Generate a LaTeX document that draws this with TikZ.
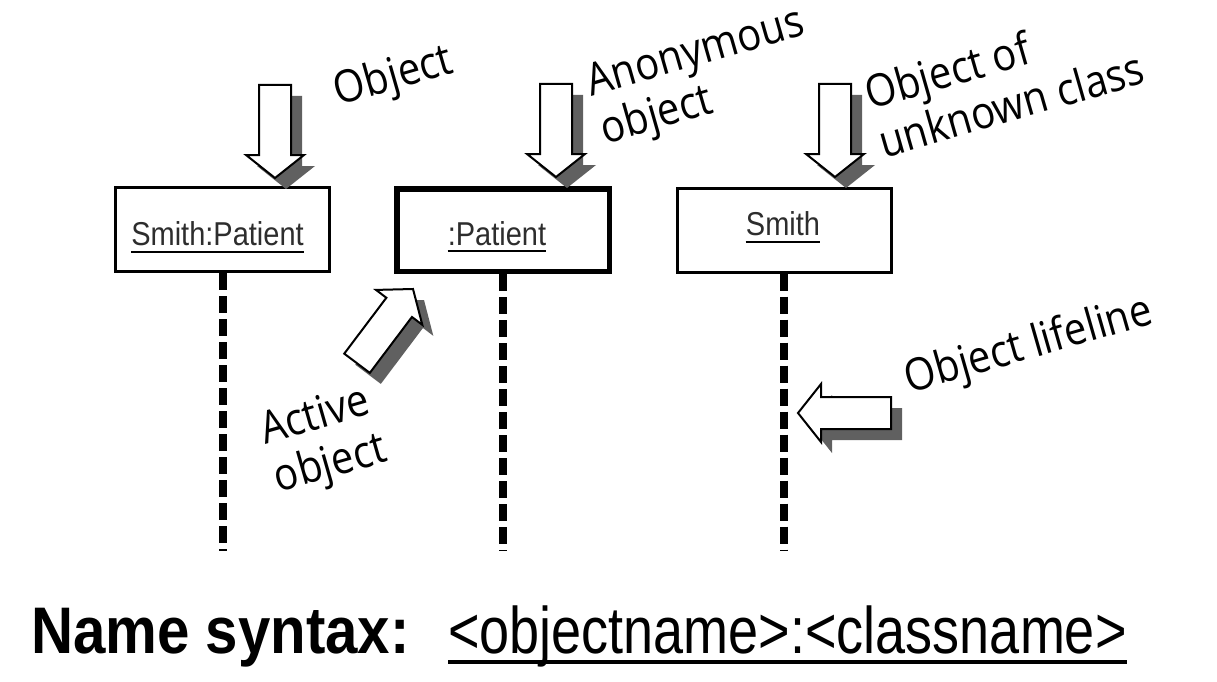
\documentclass[tikz,border=0pt]{standalone}
\usepackage{graphicx}
\usepackage{fontspec}
\setmainfont{Liberation Sans}
\newfontfamily\handfont{Open Sans}
\usepackage{tikz}
\definecolor{figline}{RGB}{0,0,0}
\definecolor{figshade}{RGB}{96,96,96}
\definecolor{figtext}{RGB}{45,45,45}
\tikzset{
  objbox/.style  ={draw=figline, line width=3pt, fill=white, minimum width=214pt, minimum height=84pt, inner sep=0pt},
  actbox/.style  ={objbox, line width=5.5pt, minimum width=212.5pt, minimum height=82.5pt},
  objname/.style ={font=\fontsize{29}{29}\selectfont, text=figtext, inner sep=0pt},
  uline/.style   ={draw=figline, line width=2.5pt},
  life/.style    ={draw=figline, line width=8pt, dash pattern=on 17pt off 6pt},
  hand/.style    ={font=\handfont\fontsize{40}{50}\selectfont, rotate=16, align=left, inner sep=0pt},
  arrowline/.style={draw=figline, line width=2pt, fill=white, line join=miter},
}
\newcommand{\arrowoutline}{(0,0) -- (-23,29) -- (-23,16) -- (-93,16) -- (-93,-16) -- (-23,-16) -- (-23,-29) -- cycle}
\newcommand{\blockarrow}[3]{%
  \fill[figshade,shift={(#1+11,#2+11)},rotate=#3] \arrowoutline;
  \draw[arrowline,shift={(#1,#2)},rotate=#3] \arrowoutline;
}
\newcommand{\tall}[1]{\scalebox{1}[1.12]{#1}}

\begin{document}
\begin{tikzpicture}[x=1pt,y=-1pt]
  \fill[white] (0,0) rectangle (1217,682);
  \useasboundingbox (0,0) rectangle (1217,682);

  \node[objbox] (smith) at (222.5,229.5) {};
  \node[actbox] (anon) at (503,230) {};
  \node[objbox] (unknown) at (784,230) {};

  \node[objname,anchor=base] (smithname) at (217.5,245) {\scalebox{1}[1.14]{Smith:Patient}};
  \node[objname,anchor=base] (anonname) at (497,245) {\scalebox{1}[1.14]{:Patient}};
  \node[objname,anchor=base] (unknownname) at (783,235) {\scalebox{1}[1.14]{Smith}};
  \draw[uline] ([yshift=-7pt]smithname.base west) -- ([yshift=-7pt]smithname.base east);
  \draw[uline] ([yshift=-6pt]anonname.base west) -- ([yshift=-6pt]anonname.base east);
  \draw[uline] ([yshift=-7pt]unknownname.base west) -- ([yshift=-7pt]unknownname.base east);

  \coordinate (smithend) at (222.5,551);
  \coordinate (anonend) at (503,551);
  \coordinate (unknownend) at (784,551);
  \draw[life] (smith.south) -- (smithend);
  \draw[life] (anon.south) -- (anonend);
  \draw[life] (unknown.south) -- (unknownend);

  \blockarrow{275}{178}{-90}
  \blockarrow{556}{177}{-90}
  \blockarrow{835}{177}{-90}
  \blockarrow{413}{289}{53}
  \blockarrow{798}{413}{180}

  \node[hand] (objlabel) at (394,78) {\tall{Object}};
  \node[hand] (anonlabel) at (703,79) {\tall{Anonymous}\\\tall{object}};
  \node[hand] (unknownlabel) at (1004,80) {\tall{Object of}\\\tall{unknown class}};
  \node[hand] (activelabel) at (324,442) {\tall{Active}\\\tall{object}};
  \node[hand] (lifelabel) at (1029,347) {\tall{Object lifeline}};

  \node[font=\bfseries\fontsize{54}{54}\selectfont,anchor=base east,inner sep=0pt] (syntaxlabel) at (410,653) {\scalebox{1.078}[1.22]{Name syntax:}};
  \node[font=\fontsize{54}{54}\selectfont,anchor=base west,inner sep=0pt] (syntaxform) at (448,653) {\scalebox{1}[1.22]{<objectname>:<classname>}};
  \draw[uline,line width=4pt] ([yshift=-9pt]syntaxform.base west) -- ([yshift=-9pt]syntaxform.base east);
\end{tikzpicture}
\end{document}
